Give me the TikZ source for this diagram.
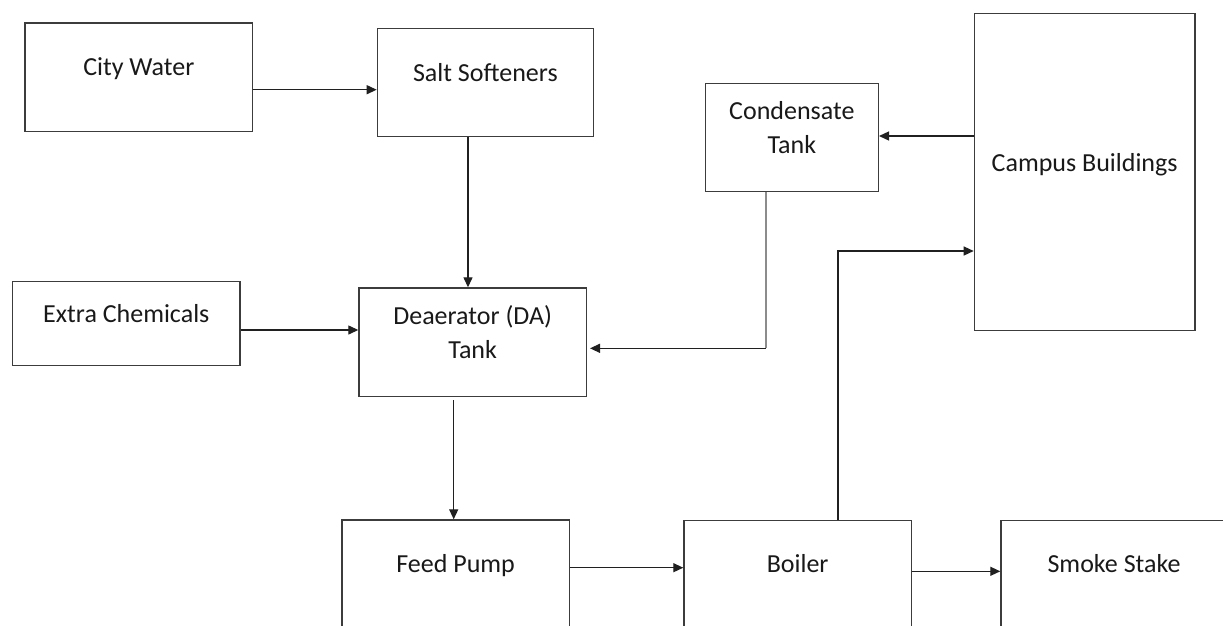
\documentclass[tikz,border=0pt]{standalone}
\usepackage{fontspec}
\setmainfont{Carlito}
\usetikzlibrary{arrows.meta,calc}
\definecolor{boxline}{HTML}{3C3C3C}
\definecolor{wire}{HTML}{202020}
\definecolor{wiregray}{HTML}{8C8C8C}
\begin{document}
\begin{tikzpicture}[x=1pt,y=-1pt,
  blk/.style={draw=boxline,line width=1.3pt,rectangle,inner sep=0pt,anchor=north west},
  lbl/.style={font=\fontsize{26}{34.3}\selectfont,text=black!90,inner sep=0pt,anchor=base,align=center},
  arr/.style={draw=wire,line width=1.3pt,-{Triangle[length=10pt,width=9pt]}},
  plain/.style={draw=wire,line width=1.3pt}]
\useasboundingbox (0,0) rectangle (1223,625);
\clip (0,0) rectangle (1223,625);
\fill[white] (0,0) rectangle (1223,625);
% boxes
\node[blk,minimum width=227.7pt,minimum height=108.4pt] (cw) at (24.3,22.3) {};
\node[blk,minimum width=216pt,minimum height=108pt] (ss) at (376.7,28) {};
\node[blk,minimum width=227.3pt,minimum height=84pt] (ec) at (12,281) {};
\node[blk,minimum width=227.4pt,minimum height=108.5pt] (da) at (358.3,287.3) {};
\node[blk,minimum width=173pt,minimum height=108.3pt] (ct) at (704.7,82.7) {};
\node[blk,minimum width=220.6pt,minimum height=317.3pt] (cb) at (973.7,12.7) {};
\node[blk,minimum width=227.4pt,minimum height=150pt] (fp) at (341.3,519.3) {};
\node[blk,minimum width=227.4pt,minimum height=150pt] (bo) at (683.3,519.5) {};
\node[blk,minimum width=227.4pt,minimum height=150pt] (sm) at (1000.3,519.5) {};
% labels (base = baseline of the last line)
\node[lbl] (cwt) at ([yshift=-53.4pt]cw.north) {City Water};
\node[lbl] (sst) at ([yshift=-53pt]ss.north) {Salt Softeners};
\node[lbl] (ect) at ([yshift=-41.3pt]ec.north) {Extra Chemicals};
\node[lbl] (dat) at ([yshift=-71pt]da.north) {Deaerator (DA)\\Tank};
\node[lbl] (ctt) at ([yshift=-70.6pt]ct.north) {Condensate\\Tank};
\node[lbl] (cbt) at ([yshift=-158.3pt]cb.north) {Campus Buildings};
\node[lbl] (fpt) at ([yshift=-53.4pt]fp.north) {Feed Pump};
\node[lbl] (bot) at ([yshift=-53.2pt]bo.north) {Boiler};
\node[lbl] (smt) at ([xshift=113.7pt,yshift=-53.2pt]sm.north west) {Smoke Stake};
% connectors
\draw[arr] ([yshift=-67.4pt]cw.north east) coordinate (a1) -- (ss.west |- a1);
\draw[arr] ([xshift=91.3pt]ss.south west) coordinate (a2) -- (a2 |- da.north);
\draw[arr] ([yshift=-49pt]ec.north east) coordinate (a3) -- (da.west |- a3);
\coordinate (bend) at ([xshift=61.3pt]ct.south west |- 0,348.3);
\draw[draw=wiregray,line width=1.3pt] ([xshift=61.3pt]ct.south west) -- (bend);
\draw[arr,shorten >=3pt] (bend) -- (da.east |- bend);
\draw[arr] ([yshift=-123.3pt]cb.north west) coordinate (a5) -- (ct.east |- a5);
\draw[arr] ([xshift=154.7pt]bo.north west) |- ([yshift=-238.3pt]cb.north west);
\draw[arr,shorten <=3pt] ([xshift=95.4pt]da.south west) coordinate (a7) -- (a7 |- fp.north);
\draw[arr] ([yshift=-48.4pt]fp.north east) coordinate (a8) -- (bo.west |- a8);
\draw[arr] ([yshift=-51.8pt]bo.north east) coordinate (a9) -- (sm.west |- a9);
\end{tikzpicture}
\end{document}
